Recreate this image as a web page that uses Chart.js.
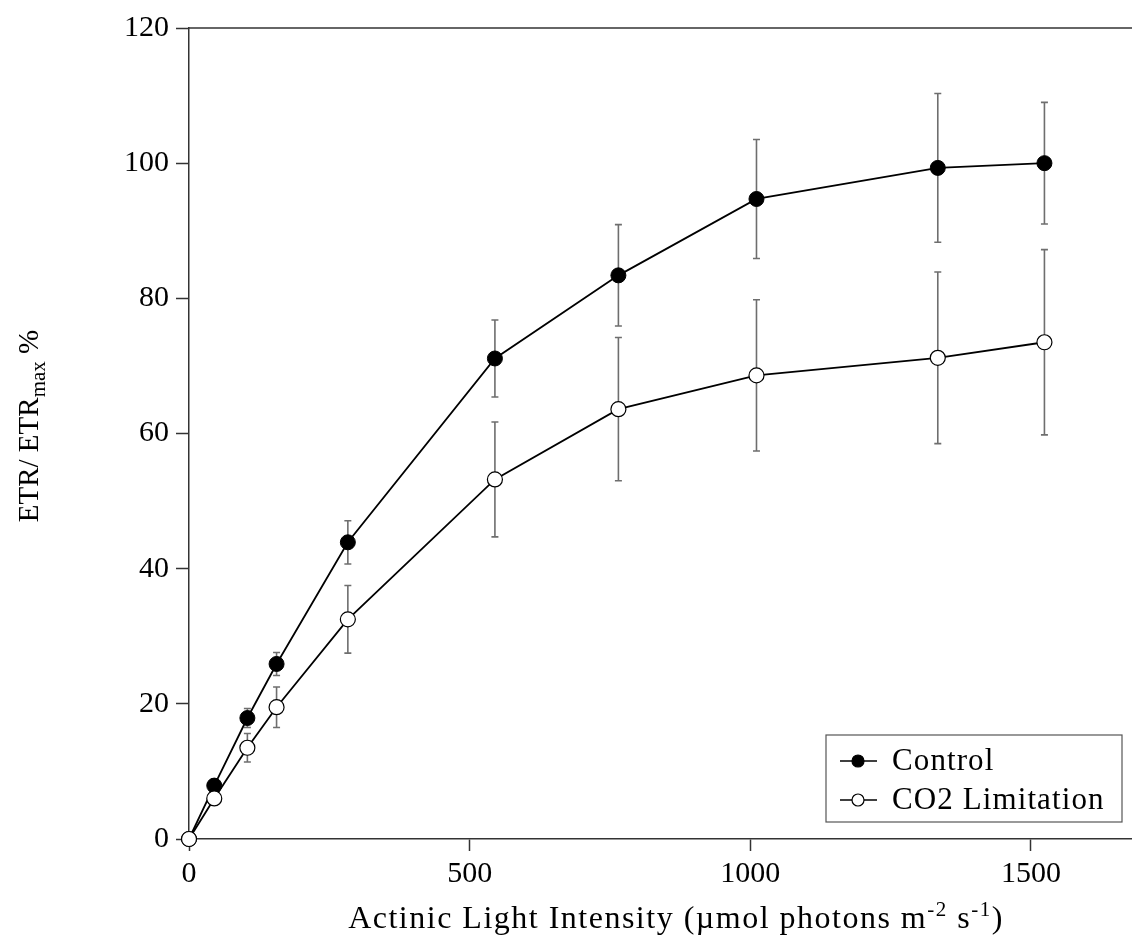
<!DOCTYPE html>
<html>
<head>
<meta charset="utf-8">
<title>ETR / ETRmax</title>
<script src="https://cdn.jsdelivr.net/npm/chart.js@4.4.1/dist/chart.umd.min.js"></script>
<style>
  html, body { margin: 0; padding: 0; background: #fff; overflow: hidden; }
  #wrap { width: 1132px; height: 938px; }
</style>
</head>
<body>
<div id="wrap"><canvas id="myChart"></canvas></div>
<script>
// data
const lightLevels = [0, 45, 104, 156, 283, 545, 765, 1011, 1334, 1524];
const controlValues = [0, 7.9, 17.9, 25.9, 43.9, 71.1, 83.4, 94.7, 99.3, 100];
const controlErrors = [0, 1.0, 1.4, 1.7, 3.2, 5.7, 7.5, 8.8, 11, 9];
const co2Values = [0, 6.0, 13.5, 19.5, 32.5, 53.2, 63.6, 68.6, 71.2, 73.5];
const co2Errors = [0, 0.5, 2.1, 3.0, 5.0, 8.5, 10.6, 11.2, 12.7, 13.7];
const xTicks = [0, 500, 1000, 1500];
const yTicks = [0, 20, 40, 60, 80, 100, 120];
const seriesNames = ["Control", "CO2 Limitation"];

const FONT = "'Liberation Serif', 'Times New Roman', serif";

function toPoints(xs, ys) {
  return xs.map(function (x, i) { return { x: x, y: ys[i] }; });
}

// draw a run of text pieces (normal / sub / superscript) starting at x
function drawPieces(ctx, parts, x, y, spacing) {
  ctx.letterSpacing = spacing;
  ctx.textAlign = "left";
  parts.forEach(function (p) {
    ctx.font = p[1];
    ctx.fillText(p[0], x, y + p[2]);
    x += ctx.measureText(p[0]).width;
  });
}
function piecesWidth(ctx, parts, spacing) {
  let w = 0;
  ctx.letterSpacing = spacing;
  parts.forEach(function (p) { ctx.font = p[1]; w += ctx.measureText(p[0]).width; });
  return w;
}

// error bars, drawn under the lines and markers
const errorBars = {
  id: "errorBars",
  beforeDatasetsDraw: function (chart) {
    const ctx = chart.ctx;
    const xs = chart.scales.x;
    const ys = chart.scales.y;
    const sets = [[co2Values, co2Errors], [controlValues, controlErrors]];
    ctx.save();
    ctx.strokeStyle = "#6e6e6e";
    ctx.lineWidth = 1.6;
    sets.forEach(function (s) {
      lightLevels.forEach(function (x, i) {
        if (!s[1][i]) return;
        const px = xs.getPixelForValue(x);
        const top = ys.getPixelForValue(s[0][i] + s[1][i]);
        const bot = ys.getPixelForValue(s[0][i] - s[1][i]);
        ctx.beginPath();
        ctx.moveTo(px, top); ctx.lineTo(px, bot);
        ctx.moveTo(px - 3.5, top); ctx.lineTo(px + 3.5, top);
        ctx.moveTo(px - 3.5, bot); ctx.lineTo(px + 3.5, bot);
        ctx.stroke();
      });
    });
    ctx.restore();
  }
};

// top frame line, axis titles with sub/superscripts, legend box
const decorations = {
  id: "decorations",
  afterDraw: function (chart) {
    const ctx = chart.ctx;
    const area = chart.chartArea;
    ctx.save();

    // top line
    ctx.strokeStyle = "#333";
    ctx.lineWidth = 1.5;
    ctx.beginPath();
    ctx.moveTo(area.left, area.top);
    ctx.lineTo(area.right, area.top);
    ctx.stroke();

    ctx.fillStyle = "#000";
    ctx.textBaseline = "alphabetic";

    // x axis title
    const big = "32px " + FONT;
    const small = "21px " + FONT;
    const xParts = [
      ["Actinic Light Intensity (\u00b5mol photons m", big, 0],
      ["-2", small, -12],
      [" s", big, 0],
      ["-1", small, -12],
      [")", big, 0]
    ];
    const w = piecesWidth(ctx, xParts, "1.5px");
    drawPieces(ctx, xParts, 676 - w / 2, 928, "1.5px");

    // y axis title (rotated)
    ctx.save();
    ctx.translate(38, 426);
    ctx.rotate(-Math.PI / 2);
    const yParts = [
      ["ETR/ ETR", "29px " + FONT, 0],
      ["max", "21px " + FONT, 7],
      [" %", "29px " + FONT, 0]
    ];
    const wy = piecesWidth(ctx, yParts, "0px");
    drawPieces(ctx, yParts, -wy / 2, 0, "0px");
    ctx.restore();

    // legend
    ctx.letterSpacing = "0px";
    ctx.strokeStyle = "#555";
    ctx.lineWidth = 1.2;
    ctx.strokeRect(826, 735, 296, 87);
    const rows = [[761, true], [800, false]];
    rows.forEach(function (r, i) {
      ctx.strokeStyle = "#000";
      ctx.lineWidth = 1.6;
      ctx.beginPath();
      ctx.moveTo(840, r[0]); ctx.lineTo(877, r[0]);
      ctx.stroke();
      ctx.beginPath();
      ctx.arc(858, r[0], 6, 0, Math.PI * 2);
      ctx.fillStyle = r[1] ? "#000" : "#fff";
      ctx.fill();
      ctx.lineWidth = 1.2;
      ctx.stroke();
      ctx.fillStyle = "#000";
      ctx.font = "31px " + FONT;
      ctx.letterSpacing = "1.1px";
      ctx.textBaseline = "middle";
      ctx.textAlign = "left";
      ctx.fillText(seriesNames[i], 892, r[0] + 1);
      ctx.letterSpacing = "0px";
    });

    ctx.restore();
  }
};

const ctxLine = document.getElementById("myChart").getContext("2d");
const myChart = new Chart(ctxLine, {
  type: "line",
  data: {
    datasets: [
      {
        label: seriesNames[1],
        data: toPoints(lightLevels, co2Values),
        borderColor: "#000",
        borderWidth: 1.8,
        pointRadius: 7.5,
        pointBackgroundColor: "#fff",
        pointBorderColor: "#000",
        pointBorderWidth: 1.2,
        tension: 0,
        clip: false,
      },
      {
        label: seriesNames[0],
        data: toPoints(lightLevels, controlValues),
        borderColor: "#000",
        borderWidth: 1.8,
        pointRadius: 7.5,
        pointBackgroundColor: "#000",
        pointBorderColor: "#000",
        pointBorderWidth: 1,
        tension: 0,
        clip: false,
      },
    ],
  },
  options: {
    responsive: true,
    maintainAspectRatio: false,
    animation: false,
    layout: { autoPadding: false, padding: { top: 28, right: 0, left: 0, bottom: 0 } },
    plugins: {
      legend: { display: false },
      tooltip: { enabled: false },
    },
    scales: {
      x: {
        type: "linear",
        min: 0,
        max: 1680,
        grid: { display: true, drawOnChartArea: false, drawTicks: true, tickLength: 12, tickColor: "#333", tickWidth: 1.5 },
        border: { display: true, color: "#333", width: 1.5 },
        afterBuildTicks: function (axis) { axis.ticks = xTicks.map(function (v) { return { value: v }; }); },
        afterFit: function (axis) { axis.height = 99; axis.paddingRight = 0; axis.paddingLeft = 0; },
        ticks: {
          color: "#000", padding: 5, maxRotation: 0,
          font: { family: FONT, size: 30 },
          callback: function (v) { return String(v); },
        },
      },
      y: {
        min: 0,
        max: 120,
        grid: { display: true, drawOnChartArea: false, drawTicks: true, tickLength: 13, tickColor: "#333", tickWidth: 1.5 },
        border: { display: true, color: "#333", width: 1.5 },
        afterBuildTicks: function (axis) { axis.ticks = yTicks.map(function (v) { return { value: v }; }); },
        afterFit: function (axis) { axis.width = 189; },
        ticks: { color: "#000", padding: 7, font: { family: FONT, size: 30 } },
      },
    },
  },
  plugins: [errorBars, decorations],
});
</script>
</body>
</html>
